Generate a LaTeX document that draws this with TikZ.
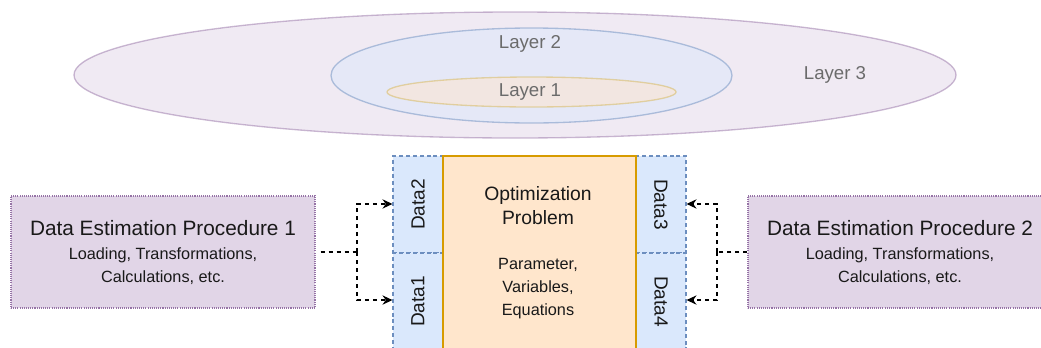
\documentclass[tikz,border=0pt]{standalone}
\usepackage{fontspec}
\setmainfont{Liberation Sans}
\usetikzlibrary{arrows.meta,shapes.geometric}
\definecolor{purpfill}{HTML}{E1D5E7}
\definecolor{purpline}{HTML}{9673A6}
\definecolor{bluefill}{HTML}{DAE8FC}
\definecolor{blueline}{HTML}{6C8EBF}
\definecolor{orfill}{HTML}{FFE6CC}
\definecolor{orline}{HTML}{D79B00}
\definecolor{yelline}{HTML}{D6B656}
\tikzset{
  layerell/.style={ellipse, inner sep=0pt, line width=1pt, opacity=0.5},
  layertxt/.style={text=black!58, font=\fontsize{14}{16}\selectfont, inner sep=0pt},
  procbox/.style={draw=purpline, fill=purpfill, line width=0.8pt, dash pattern=on 0.8pt off 0.8pt, minimum width=228pt, minimum height=84pt, inner sep=0pt},
  databox/.style={draw=blueline, fill=bluefill, line width=0.8pt, dash pattern=on 3pt off 2.2pt, minimum width=37.5pt, minimum height=72.75pt, inner sep=0pt},
  optbox/.style={draw=orline, fill=orfill, line width=1pt, minimum width=144.75pt, minimum height=145.5pt, inner sep=0pt},
  titletxt/.style={font=\fontsize{15.6}{18}\selectfont, inner sep=0pt, text=black!90},
  subtxt/.style={font=\fontsize{12.2}{14}\selectfont, inner sep=0pt, text=black!90},
  datatxt/.style={font=\fontsize{14.3}{16}\selectfont, inner sep=0pt, text=black!90},
  conn/.style={draw=black, line width=1pt, dash pattern=on 3pt off 3pt},
  connarrow/.style={conn, -{Stealth[length=7.5pt, width=7pt, inset=2.5pt]}}
}
\begin{document}
\begin{tikzpicture}[x=0.75pt,y=-0.75pt]
\useasboundingbox (0,0) rectangle (1041,347);
\clip (0,0) rectangle (1041,347);
% layers
\node[layerell, draw=purpline, fill=purpfill, minimum width=661.5pt, minimum height=94.5pt] (l3) at (515,75) {};
\node[layerell, draw=blueline, fill=bluefill, minimum width=300.75pt, minimum height=71.25pt] (l2) at (531.5,75.5) {};
\node[layerell, draw=yelline, fill=orfill, minimum width=216.75pt, minimum height=22.5pt] (l1) at (531.5,92) {};
\node[layertxt] (t3) at (835,75) {Layer 3};
\node[layertxt] (t2) at (530,44) {Layer 2};
\node[layertxt] (t1) at (530,92) {Layer 1};
% procedure boxes
\node[procbox] (lb) at (163,252) {};
\node[procbox] (rb) at (900,252) {};
\node[titletxt] (lbt) at (163,228) {Data Estimation Procedure 1};
\node[subtxt] (lbs1) at (163,255) {Loading, Transformations,};
\node[subtxt] (lbs2) at (163,278) {Calculations, etc.};
\node[titletxt] (rbt) at (900,228) {Data Estimation Procedure 2};
\node[subtxt] (rbs1) at (900,255) {Loading, Transformations,};
\node[subtxt] (rbs2) at (900,278) {Calculations, etc.};
% data boxes
\node[databox] (d2) at (418,204.5) {};
\node[databox] (d1) at (418,301.5) {};
\node[databox] (d3) at (661,204.5) {};
\node[databox] (d4) at (661,301.5) {};
\node[optbox] (opt) at (539.5,253) {};
\node[datatxt, rotate=90] (d2t) at (d2) {Data2};
\node[datatxt, rotate=90] (d1t) at (d1) {Data1};
\node[datatxt, rotate=-90] (d3t) at (d3) {Data3};
\node[datatxt, rotate=-90] (d4t) at (d4) {Data4};
\node[titletxt, font=\fontsize{14.5}{17}\selectfont] (o1) at (538,195) {Optimization};
\node[titletxt, font=\fontsize{14.5}{17}\selectfont] (o2) at (538,218) {Problem};
\node[subtxt] (o3) at (538,265) {Parameter,};
\node[subtxt] (o4) at (538,288) {Variables,};
\node[subtxt] (o5) at (538,311) {Equations};
% connectors
\coordinate (jl) at (357,252);
\coordinate (jr) at (717,252);
\draw[conn] ([xshift=3.75pt]lb.east) -- (jl);
\draw[connarrow] (jl) |- ([yshift=0.4pt]d2.west);
\draw[connarrow] (jl) |- ([yshift=1.1pt]d1.west);
\draw[conn] (rb.west) -- (jr);
\draw[connarrow] (jr) |- ([yshift=0.4pt]d3.east);
\draw[connarrow] (jr) |- ([yshift=1.1pt]d4.east);
\end{tikzpicture}
\end{document}
